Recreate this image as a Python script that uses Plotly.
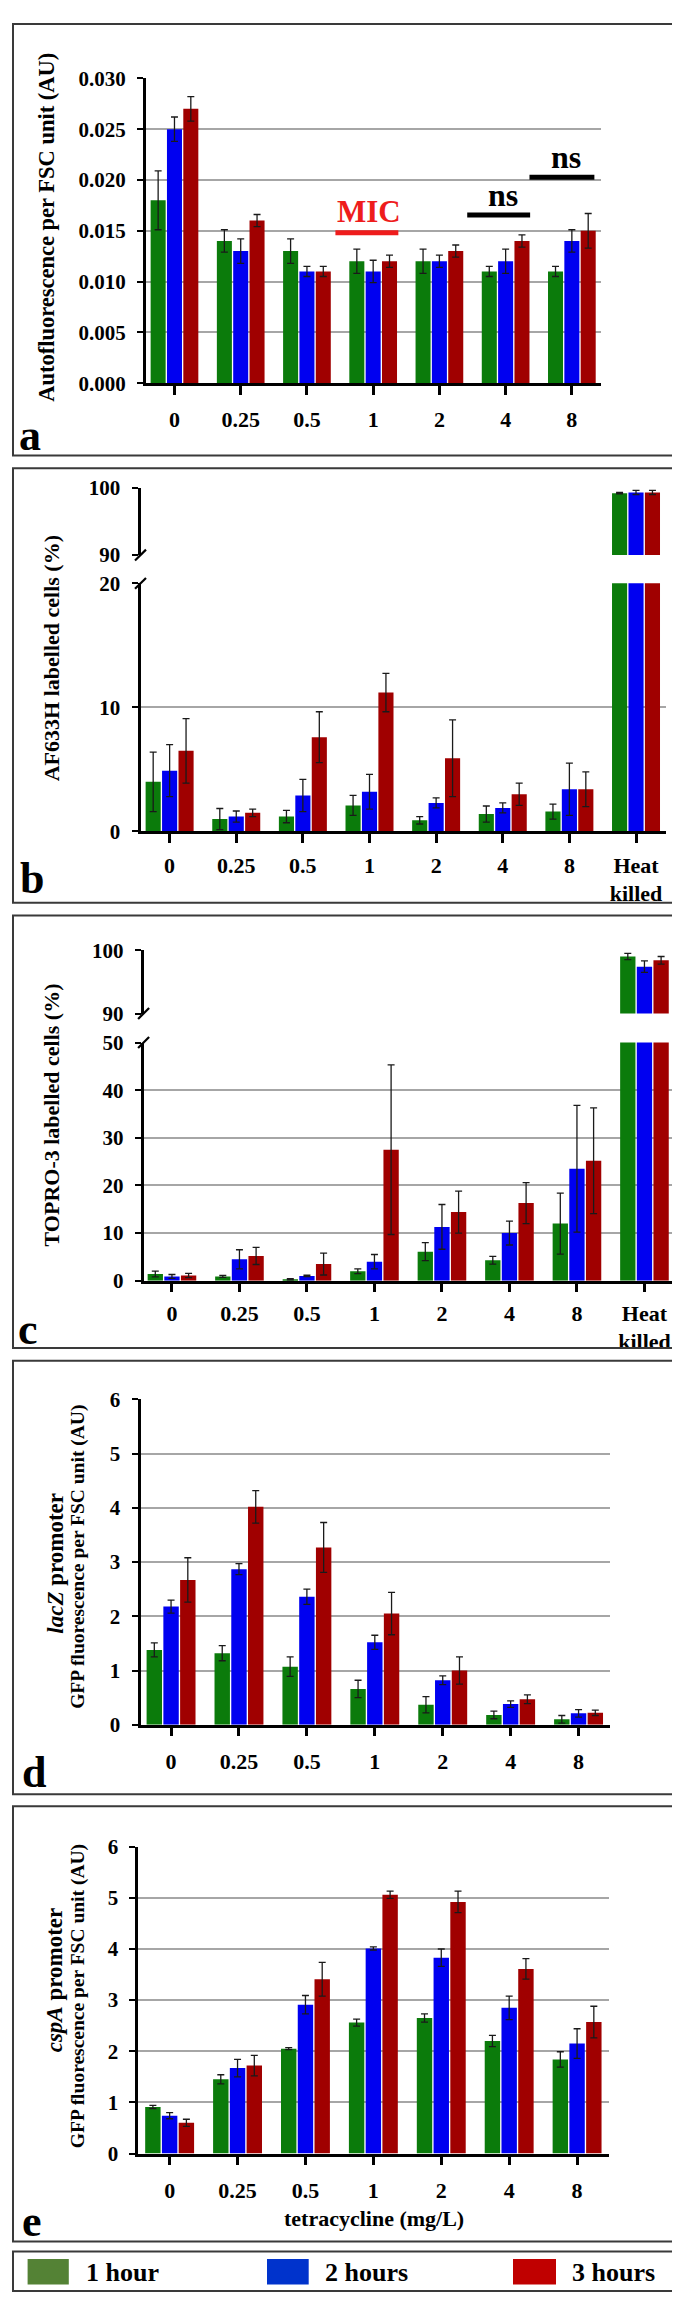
import plotly.graph_objects as go

W, H = 680, 2300

# ---------------- data ----------------
doses = ["0", "0.25", "0.5", "1", "2", "4", "8"]
doses_hk = doses + ["Heat<br>killed"]
series_names = ["1 hour", "2 hours", "3 hours"]

a_1h = [0.018, 0.014, 0.013, 0.012, 0.012, 0.011, 0.011]
a_1h_err = [0.0029, 0.0011, 0.0012, 0.0012, 0.0012, 0.0005, 0.0005]
a_2h = [0.025, 0.013, 0.011, 0.011, 0.012, 0.012, 0.014]
a_2h_err = [0.0012, 0.0012, 0.0005, 0.0011, 0.0006, 0.0012, 0.0011]
a_3h = [0.027, 0.016, 0.011, 0.012, 0.013, 0.014, 0.015]
a_3h_err = [0.0012, 0.0006, 0.0005, 0.0006, 0.0006, 0.0006, 0.0017]

b_1h = [4.0, 1.0, 1.2, 2.1, 0.9, 1.4, 1.6, 99.2]
b_1h_err = [2.4, 0.85, 0.5, 0.8, 0.3, 0.65, 0.6, 0.1]
b_2h = [4.9, 1.2, 2.9, 3.2, 2.3, 1.9, 3.4, 99.3]
b_2h_err = [2.1, 0.45, 1.3, 1.4, 0.4, 0.4, 2.1, 0.3]
b_3h = [6.5, 1.5, 7.6, 11.2, 5.9, 3.0, 3.4, 99.3]
b_3h_err = [2.6, 0.3, 2.05, 1.55, 3.1, 0.9, 1.4, 0.3]

c_1h = [1.4, 0.9, 0.3, 2.0, 6.1, 4.3, 12.0, 99.0]
c_1h_err = [0.6, 0.2, 0.15, 0.5, 1.9, 0.8, 6.4, 0.5]
c_2h = [0.9, 4.5, 1.0, 4.0, 11.3, 10.0, 23.5, 97.4]
c_2h_err = [0.4, 2.0, 0.15, 1.5, 4.7, 2.5, 13.3, 0.9]
c_3h = [1.1, 5.2, 3.5, 27.5, 14.4, 16.3, 25.2, 98.4]
c_3h_err = [0.45, 1.8, 2.3, 17.8, 4.4, 4.3, 11.1, 0.6]

d_1h = [1.38, 1.32, 1.07, 0.66, 0.37, 0.18, 0.10]
d_1h_err = [0.13, 0.14, 0.18, 0.16, 0.15, 0.07, 0.07]
d_2h = [2.18, 2.87, 2.36, 1.52, 0.82, 0.38, 0.21]
d_2h_err = [0.12, 0.10, 0.14, 0.13, 0.08, 0.06, 0.07]
d_3h = [2.67, 4.02, 3.27, 2.05, 1.00, 0.47, 0.22]
d_3h_err = [0.41, 0.30, 0.46, 0.39, 0.25, 0.08, 0.05]

e_1h = [0.91, 1.45, 2.05, 2.56, 2.65, 2.20, 1.84]
e_1h_err = [0.03, 0.09, 0.02, 0.07, 0.08, 0.11, 0.15]
e_2h = [0.74, 1.67, 2.91, 4.01, 3.83, 2.85, 2.15]
e_2h_err = [0.06, 0.17, 0.18, 0.03, 0.17, 0.23, 0.29]
e_3h = [0.60, 1.72, 3.41, 5.06, 4.92, 3.61, 2.57]
e_3h_err = [0.07, 0.20, 0.33, 0.07, 0.21, 0.20, 0.31]

# ---------------- style ----------------
bar_colors = ["#0b7b0b", "#0000f0", "#a00000"]
legend_colors = ["#548235", "#0033cc", "#c00000"]
FONT = "Liberation Serif"
GRID = "#a6a6a6"


def px(x):
    return x / W


def py(y):
    return 1 - y / H


fig = go.Figure()


def add_series(cats, vals, errs, xa, ya):
    for i, (v, e) in enumerate(zip(vals, errs)):
        fig.add_trace(go.Bar(
            x=cats, y=v, name=series_names[i], showlegend=False,
            marker=dict(color=bar_colors[i], line=dict(width=0)),
            error_y=dict(type="data", array=e, color="#1a1a1a", thickness=1.3, width=3.5),
            xaxis=xa, yaxis=ya, hoverinfo="skip"))


add_series(doses, [a_1h, a_2h, a_3h], [a_1h_err, a_2h_err, a_3h_err], "x", "y")
add_series(doses_hk, [b_1h, b_2h, b_3h], [b_1h_err, b_2h_err, b_3h_err], "x2", "y2")
add_series(doses_hk, [b_1h, b_2h, b_3h], [b_1h_err, b_2h_err, b_3h_err], "x3", "y3")
add_series(doses_hk, [c_1h, c_2h, c_3h], [c_1h_err, c_2h_err, c_3h_err], "x4", "y4")
add_series(doses_hk, [c_1h, c_2h, c_3h], [c_1h_err, c_2h_err, c_3h_err], "x5", "y5")
add_series(doses, [d_1h, d_2h, d_3h], [d_1h_err, d_2h_err, d_3h_err], "x6", "y6")
add_series(doses, [e_1h, e_2h, e_3h], [e_1h_err, e_2h_err, e_3h_err], "x7", "y7")


def xaxis(x0, x1, rng, anchor, visible=True, standoff=6):
    return dict(domain=[px(x0), px(x1)], range=rng, type="category", anchor=anchor,
                visible=visible, showline=True, linecolor="black", linewidth=2.5,
                ticks="outside", ticklen=9, tickwidth=2.5, tickcolor="black",
                showgrid=False, zeroline=False, fixedrange=True,
                ticklabelstandoff=standoff,
                tickfont=dict(family=FONT, size=22, color="black", weight="bold"))


def yaxis(y_top, y_bot, rng, anchor, tickvals, ticktext):
    return dict(domain=[py(y_bot), py(y_top)], range=rng, anchor=anchor,
                showline=True, linecolor="black", linewidth=3,
                ticks="outside", ticklen=6, tickwidth=2, tickcolor="black",
                showgrid=True, gridcolor=GRID, gridwidth=1.5, zeroline=False,
                tickmode="array", tickvals=tickvals, ticktext=ticktext,
                ticklabelstandoff=7, fixedrange=True,
                tickfont=dict(family=FONT, size=21, color="black", weight="bold"))


a_ticks = [0, 0.005, 0.01, 0.015, 0.02, 0.025, 0.03]
layout_axes = dict(
    xaxis=xaxis(138, 593, [-0.43, 6.44], "y"),
    yaxis=yaxis(59, 367, [0, 0.03], "x", a_ticks, [f"{t:.3f}" for t in a_ticks]),
    xaxis2=xaxis(132.5, 658, [-0.437, 7.45], "y2", standoff=3),
    yaxis2=yaxis(569.3, 820, [0, 20], "x2", [0, 10, 20], ["0", "10", "20"]),
    xaxis3=xaxis(132.5, 658, [-0.437, 7.45], "y3", visible=False),
    yaxis3=yaxis(472.7, 540.7, [90, 100], "x3", [90, 100], ["90", "100"]),
    xaxis4=xaxis(135.6, 664.8, [-0.42, 7.42], "y4", standoff=2),
    yaxis4=yaxis(1033.3, 1274, [0, 50], "x4", [0, 10, 20, 30, 40, 50],
                 ["0", "10", "20", "30", "40", "50"]),
    xaxis5=xaxis(135.6, 664.8, [-0.42, 7.42], "y5", visible=False),
    yaxis5=yaxis(940, 1004, [90, 100], "x5", [90, 100], ["90", "100"]),
    xaxis6=xaxis(132.5, 601.8, [-0.45, 6.46], "y6"),
    yaxis6=yaxis(1394, 1722.7, [0, 6], "x6", list(range(7)), [str(i) for i in range(7)]),
    xaxis7=xaxis(130.4, 601, [-0.46, 6.47], "y7"),
    yaxis7=yaxis(1846, 2156, [0, 6], "x7", list(range(7)), [str(i) for i in range(7)]),
)

shapes = []
annotations = []

# panel borders
for (t, b) in [(4, 440), (453, 892), (905, 1342), (1355, 1793), (1805, 2245), (2255, 2295)]:
    shapes.append(dict(type="rect", xref="paper", yref="paper", x0=px(5), x1=px(677),
                       y0=py(b), y1=py(t), line=dict(color="#3a3a3a", width=2),
                       fillcolor="rgba(0,0,0,0)", layer="above"))

# axis break marks
for (ax, y) in [(132.5, 540.7), (132.5, 569.3), (135.6, 1004), (135.6, 1033.3)]:
    shapes.append(dict(type="line", xref="paper", yref="paper",
                       x0=px(ax - 5.5), y0=py(y + 5.5), x1=px(ax + 5.5), y1=py(y - 5.5),
                       line=dict(color="black", width=2.2), layer="above"))

# significance marks in panel a
MIC_line = (2.43, 3.38, 0.0148)
ns1_line = (4.42, 5.37, 0.01656)
ns2_line = (5.36, 6.34, 0.02026)
for (x0, x1, yy), col in [(MIC_line, "#ee1c1c"), (ns1_line, "black"), (ns2_line, "black")]:
    shapes.append(dict(type="line", xref="x", yref="y", x0=x0, x1=x1, y0=yy, y1=yy,
                       line=dict(color=col, width=5)))
annotations.append(dict(text="MIC", xref="x", yref="y", x=2.93, y=0.0169, showarrow=False,
                        font=dict(family=FONT, size=31, color="#ee1c1c", weight="bold")))
annotations.append(dict(text="ns", xref="x", yref="y", x=4.96, y=0.0185, showarrow=False,
                        font=dict(family=FONT, size=32, color="black", weight="bold")))
annotations.append(dict(text="ns", xref="x", yref="y", x=5.91, y=0.0223, showarrow=False,
                        font=dict(family=FONT, size=32, color="black", weight="bold")))


def ptext(text, x, y, size, angle=0, xanchor="center"):
    annotations.append(dict(text=text, xref="paper", yref="paper", x=px(x), y=py(y),
                            showarrow=False, textangle=angle, xanchor=xanchor, yanchor="middle",
                            font=dict(family=FONT, size=size, color="black", weight="bold")))


# y titles
ptext("Autofluorescence per FSC unit (AU)", 39, 210, 22.5, -90)
ptext("AF633H labelled cells (%)", 43, 645, 22, -90)
ptext("TOPRO-3 labelled cells (%)", 43, 1107, 22, -90)
ptext("<i>lacZ</i> promoter", 48, 1560, 23, -90)
ptext("GFP fluorescence per FSC unit (AU)", 70, 1553, 19.5, -90)
ptext("<i>cspA</i> promoter", 46, 1981, 23, -90)
ptext("GFP fluorescence per FSC unit (AU)", 70, 1997, 19.5, -90)
ptext("tetracycline (mg/L)", 366, 2222, 22)

# panel letters
for letter, x, y in [("a", 22, 420), ("b", 24, 868), ("c", 20, 1323), ("d", 26, 1771), ("e", 24, 2225)]:
    ptext(letter, x, y, 44)

# legend
sw = [(19.6, 60.8), (259, 300.7), (505, 548)]
txt_x = [76, 315, 562]
for i in range(3):
    shapes.append(dict(type="rect", xref="paper", yref="paper", x0=px(sw[i][0]), x1=px(sw[i][1]),
                       y0=py(2288.3), y1=py(2262.7), line=dict(width=0),
                       fillcolor=legend_colors[i]))
    ptext(series_names[i], txt_x[i], 2276.5, 26, xanchor="left")

fig.update_layout(
    width=W, height=H, margin=dict(l=0, r=0, t=0, b=0),
    paper_bgcolor="white", plot_bgcolor="white",
    barmode="group", bargap=0.26, bargroupgap=0.08,
    showlegend=False, shapes=shapes, annotations=annotations,
    font=dict(family=FONT, color="black"),
    **layout_axes,
)

fig.write_html("out.html")
